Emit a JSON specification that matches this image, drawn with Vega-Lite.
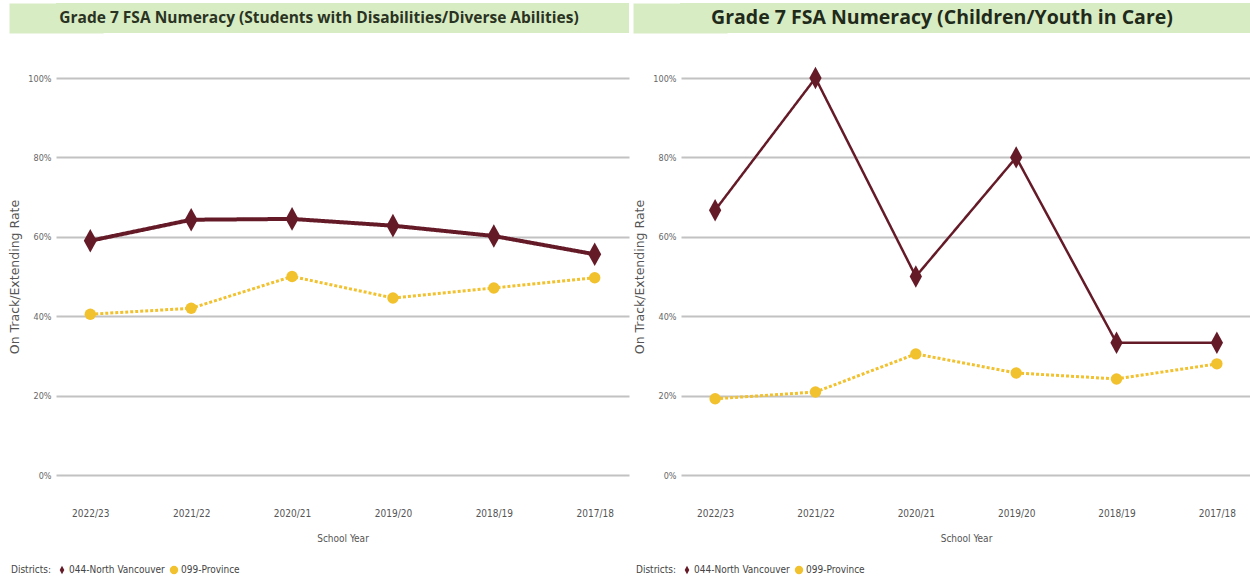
{
  "$schema": "https://vega.github.io/schema/vega-lite/v6.json",
  "padding": {"left": 8, "top": 3, "right": 0, "bottom": 0},
  "background": "white",
  "config": {
    "view": {"stroke": null},
    "font": "'DejaVu Sans Condensed', 'Liberation Sans', sans-serif",
    "axis": {"labelFont": "'DejaVu Sans Condensed', 'Liberation Sans', sans-serif", "titleFont": "'DejaVu Sans Condensed', 'Liberation Sans', sans-serif"},
    "legend": {"labelFont": "'DejaVu Sans Condensed', 'Liberation Sans', sans-serif", "titleFont": "'DejaVu Sans Condensed', 'Liberation Sans', sans-serif"}
  },
  "datasets": {
    "left": [
      {"year": "2022/23", "district": "044-North Vancouver", "value": 0.59},
      {"year": "2021/22", "district": "044-North Vancouver", "value": 0.643},
      {"year": "2020/21", "district": "044-North Vancouver", "value": 0.645},
      {"year": "2019/20", "district": "044-North Vancouver", "value": 0.628},
      {"year": "2018/19", "district": "044-North Vancouver", "value": 0.602},
      {"year": "2017/18", "district": "044-North Vancouver", "value": 0.556},
      {"year": "2022/23", "district": "099-Province", "value": 0.405},
      {"year": "2021/22", "district": "099-Province", "value": 0.42},
      {"year": "2020/21", "district": "099-Province", "value": 0.5},
      {"year": "2019/20", "district": "099-Province", "value": 0.446},
      {"year": "2018/19", "district": "099-Province", "value": 0.471},
      {"year": "2017/18", "district": "099-Province", "value": 0.497}
    ],
    "right": [
      {"year": "2022/23", "district": "044-North Vancouver", "value": 0.667},
      {"year": "2021/22", "district": "044-North Vancouver", "value": 1.0},
      {"year": "2020/21", "district": "044-North Vancouver", "value": 0.5},
      {"year": "2019/20", "district": "044-North Vancouver", "value": 0.8},
      {"year": "2018/19", "district": "044-North Vancouver", "value": 0.333},
      {"year": "2017/18", "district": "044-North Vancouver", "value": 0.333},
      {"year": "2022/23", "district": "099-Province", "value": 0.192},
      {"year": "2021/22", "district": "099-Province", "value": 0.209},
      {"year": "2020/21", "district": "099-Province", "value": 0.305},
      {"year": "2019/20", "district": "099-Province", "value": 0.257},
      {"year": "2018/19", "district": "099-Province", "value": 0.242},
      {"year": "2017/18", "district": "099-Province", "value": 0.28}
    ]
  },
  "spacing": 33,
  "vconcat": [
    {
      "spacing": 51,
      "resolve": {"scale": {"y": "independent"}},
      "hconcat": [
        {
          "width": 573,
          "height": 30,
          "view": {"fill": "#d8ecc4", "stroke": null},
          "data": {"values": [{"t": "Grade 7 FSA Numeracy (Students with Disabilities/Diverse Abilities)"}]},
          "mark": {"type": "text", "font": "Open Sans", "fontWeight": "bold", "fontSize": 15.5, "color": "#2a3322", "dx": -23.5},
          "encoding": {
            "text": {"field": "t"},
            "y": {"datum": 0, "type": "quantitative", "scale": {"domain": [-1, 1]}, "axis": {"title": null, "labels": false, "ticks": false, "grid": false, "domain": true, "domainColor": "#d8ecc4", "domainWidth": 94, "domainCap": "butt"}}
          }
        },
        {
          "width": 571,
          "height": 30,
          "view": {"fill": "#d8ecc4", "stroke": null},
          "data": {"values": [{"t": "Grade 7 FSA Numeracy (Children/Youth in Care)"}]},
          "mark": {"type": "text", "font": "Open Sans", "fontWeight": "bold", "fontSize": 19.5, "color": "#1f2a1a", "dx": -23.5},
          "encoding": {
            "text": {"field": "t"},
            "y": {"datum": 0, "type": "quantitative", "scale": {"domain": [-1, 1]}, "axis": {"title": null, "labels": false, "ticks": false, "grid": false, "domain": true, "domainColor": "#d8ecc4", "domainWidth": 94, "domainCap": "butt"}}
          }
        }
      ]
    },
    {
      "spacing": 4,
      "resolve": {"scale": {"color": "independent", "shape": "independent", "x": "independent", "y": "independent"}},
      "hconcat": [
        {
          "width": 573,
          "height": 397,
          "data": {"name": "left"},
          "encoding": {
            "x": {"field": "year", "type": "ordinal", "sort": ["2022/23", "2021/22", "2020/21", "2019/20", "2018/19", "2017/18"],
              "scale": {"type": "point", "padding": 0.34},
              "axis": {"title": "School Year", "labelAngle": 0, "domain": false, "ticks": false, "grid": false, "labelPadding": 33, "labelFontSize": 10, "labelColor": "#555", "titleFontSize": 10, "titleFontWeight": "normal", "titleColor": "#555", "titlePadding": 15}},
            "y": {"field": "value", "type": "quantitative", "scale": {"domain": [0, 1], "nice": false, "zero": true},
              "axis": {"title": "On Track/Extending Rate", "values": [0, 0.2, 0.4, 0.6, 0.8, 1], "format": ".0%", "domain": false, "ticks": false, "grid": true, "gridColor": "#c2c2c2", "gridWidth": 2, "labelPadding": 5, "labelFontSize": 9, "labelColor": "#666", "titleFont": "DejaVu Sans", "titleFontSize": 12.5, "titleFontWeight": "normal", "titleColor": "#555", "titlePadding": 6}}
          },
          "layer": [
            {
              "mark": {"type": "line"},
              "encoding": {
                "color": {"field": "district", "type": "nominal", "scale": {"domain": ["044-North Vancouver", "099-Province"], "range": ["#651a28", "#f2c12e"]}},
                "strokeDash": {"condition": {"test": "datum.district === '099-Province'", "value": [3, 2]}, "value": [1, 0]},
                "strokeWidth": {"condition": {"test": "datum.district === '099-Province'", "value": 3}, "value": 4}
              }
            },
            {
              "mark": {"type": "point", "filled": true, "opacity": 1},
              "encoding": {
                "color": {"field": "district", "type": "nominal", "scale": {"domain": ["044-North Vancouver", "099-Province"], "range": ["#651a28", "#f2c12e"]},
                  "legend": {"orient": "none", "legendX": -45, "legendY": 487, "direction": "horizontal", "title": "Districts:", "titleOrient": "left", "titleFontWeight": "normal", "titleFontSize": 10, "titleColor": "#444", "labelFontSize": 10, "labelColor": "#444", "symbolSize": 70, "columnPadding": 4, "labelOffset": 2, "symbolOffset": 0, "symbolStrokeWidth": 0}},
                "shape": {"field": "district", "type": "nominal", "scale": {"domain": ["044-North Vancouver", "099-Province"], "range": ["M0,-1L0.55,0L0,1L-0.55,0Z", "circle"]}},
                "size": {"condition": {"test": "datum.district === '099-Province'", "value": 130}, "value": 560}
              }
            }
          ]
        },
        {
          "width": 570,
          "height": 397,
          "data": {"name": "right"},
          "encoding": {
            "x": {"field": "year", "type": "ordinal", "sort": ["2022/23", "2021/22", "2020/21", "2019/20", "2018/19", "2017/18"],
              "scale": {"type": "point", "padding": 0.34},
              "axis": {"title": "School Year", "labelAngle": 0, "domain": false, "ticks": false, "grid": false, "labelPadding": 33, "labelFontSize": 10, "labelColor": "#555", "titleFontSize": 10, "titleFontWeight": "normal", "titleColor": "#555", "titlePadding": 15}},
            "y": {"field": "value", "type": "quantitative", "scale": {"domain": [0, 1], "nice": false, "zero": true},
              "axis": {"title": "On Track/Extending Rate", "values": [0, 0.2, 0.4, 0.6, 0.8, 1], "format": ".0%", "domain": false, "ticks": false, "grid": true, "gridColor": "#c2c2c2", "gridWidth": 2, "labelPadding": 5, "labelFontSize": 9, "labelColor": "#666", "titleFont": "DejaVu Sans", "titleFontSize": 12.5, "titleFontWeight": "normal", "titleColor": "#555", "titlePadding": 6}}
          },
          "layer": [
            {
              "mark": {"type": "line"},
              "encoding": {
                "color": {"field": "district", "type": "nominal", "scale": {"domain": ["044-North Vancouver", "099-Province"], "range": ["#651a28", "#f2c12e"]}},
                "strokeDash": {"condition": {"test": "datum.district === '099-Province'", "value": [3, 2]}, "value": [1, 0]},
                "strokeWidth": {"condition": {"test": "datum.district === '099-Province'", "value": 3}, "value": 2.5}
              }
            },
            {
              "mark": {"type": "point", "filled": true, "opacity": 1},
              "encoding": {
                "color": {"field": "district", "type": "nominal", "scale": {"domain": ["044-North Vancouver", "099-Province"], "range": ["#651a28", "#f2c12e"]},
                  "legend": {"orient": "none", "legendX": -45, "legendY": 487, "direction": "horizontal", "title": "Districts:", "titleOrient": "left", "titleFontWeight": "normal", "titleFontSize": 10, "titleColor": "#444", "labelFontSize": 10, "labelColor": "#444", "symbolSize": 70, "columnPadding": 4, "labelOffset": 2, "symbolOffset": 0, "symbolStrokeWidth": 0}},
                "shape": {"field": "district", "type": "nominal", "scale": {"domain": ["044-North Vancouver", "099-Province"], "range": ["M0,-1L0.55,0L0,1L-0.55,0Z", "circle"]}},
                "size": {"condition": {"test": "datum.district === '099-Province'", "value": 130}, "value": 500}
              }
            }
          ]
        }
      ]
    }
  ]
}
